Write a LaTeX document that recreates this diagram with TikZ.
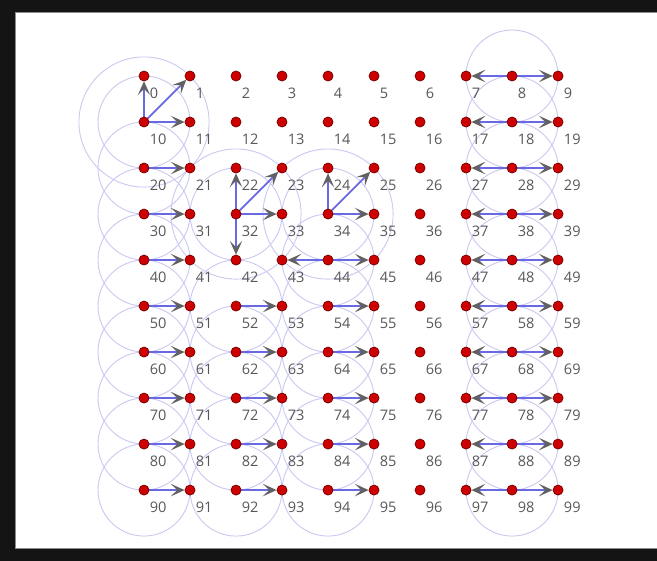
\documentclass[tikz,border=0pt]{standalone}
\usepackage{fontspec}
\setmainfont{Open Sans}
\usetikzlibrary{arrows.meta}
\definecolor{dotred}{RGB}{205,0,0}
\definecolor{linkblue}{RGB}{105,105,228}
\definecolor{rangeblue}{RGB}{200,200,242}
\definecolor{lblgray}{RGB}{88,88,88}
\pgfdeclarelayer{back}
\pgfdeclarelayer{mid}
\pgfsetlayers{back,mid,main}

\begin{document}
\begin{tikzpicture}[
      >={Stealth[length=3mm,width=2.7mm,inset=1.4mm,color=black!62]},
      dot/.style  ={circle, draw=red!45!black, fill=dotred, line width=0.4pt,
                    inner sep=0pt, minimum size=2.2mm},
      lbl/.style  ={font=\fontsize{9}{10}\selectfont, text=lblgray, anchor=west, inner sep=0pt},
      rangering/.style={draw=rangeblue, line width=0.55pt},
      link/.style ={->, draw=linkblue, line width=1.1pt}
    ]
    \useasboundingbox (-3.13,-10.54) rectangle (11.15,1.652);
    % --- frame ---
    \begin{pgfonlayer}{back}
      \fill[black!92] (-3.13,-10.54) rectangle (11.15,1.652);
      \fill[white, draw=black!45, line width=0.6pt] (-2.80,-10.28) rectangle (11.2,1.37);
    \end{pgfonlayer}
    % --- grid of nodes 0..99 with their numbers ---
    \foreach \r in {0,...,9}{
      \foreach \c in {0,...,9}{
        \pgfmathtruncatemacro\k{10*\r+\c}
        \node[dot] (n\k) at (\c,-\r) {};
        \node[lbl] (t\k) at (\c+0.12,-\r-0.38) {\k};
      }
    }
    % --- ranges and links ---
    \begin{pgfonlayer}{mid}
      \foreach \s in {10,20,30,40,50,60,70,80,90,32,34,44,52,62,72,82,92,54,64,74,84,94,8,18,28,38,48,58,68,78,88,98}
        \draw[rangering] (n\s) circle (1);
      \foreach \s in {10,32,34}
        \draw[rangering] (n\s) circle (1.4142);
      \foreach \a/\b in {10/0,10/1,10/11,20/21,30/31,40/41,50/51,60/61,70/71,80/81,90/91,
                         32/22,32/23,32/33,32/42,34/24,34/25,34/35,44/43,44/45,
                         52/53,62/63,72/73,82/83,92/93,54/55,64/65,74/75,84/85,94/95}
        \draw[link] (n\a) -- (n\b);
      \foreach \r in {0,...,9}{
        \pgfmathtruncatemacro\m{10*\r+8}
        \pgfmathtruncatemacro\w{10*\r+7}
        \pgfmathtruncatemacro\e{10*\r+9}
        \draw[link] (n\m) -- (n\w);
        \draw[link] (n\m) -- (n\e);
      }
    \end{pgfonlayer}
  \end{tikzpicture}
\end{document}
